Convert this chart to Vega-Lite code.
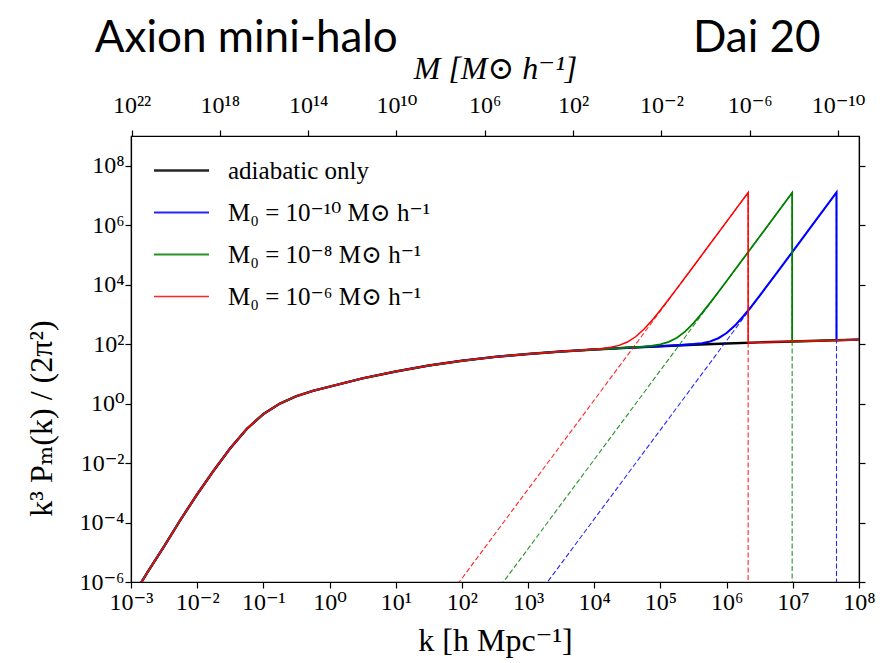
{
  "$schema": "https://vega.github.io/schema/vega-lite/v6.json",
  "width": 728,
  "height": 446,
  "autosize": "none",
  "padding": {"left": 131, "top": 136, "right": 21, "bottom": 81},
  "background": "white",
  "config": {
    "view": {"stroke": "black", "strokeWidth": 1.2},
    "axis": {"labelFont": "Liberation Serif, DejaVu Serif", "labelFontSize": 24, "labelColor": "black", "titleFont": "Liberation Serif, DejaVu Serif", "titleFontSize": 32, "titleFontWeight": "normal", "titleColor": "black", "domainColor": "black", "tickColor": "black", "tickSize": 6, "tickWidth": 1.2, "domainWidth": 1.2, "grid": false, "labelPadding": 3, "labelOverlap": false, "labelFlush": false},
    "legend": {"orient": "none", "legendX": 38, "legendY": 22, "symbolType": "M-2.5,0H2.5", "symbolSize": 484, "labelFont": "Liberation Serif, DejaVu Serif", "labelFontSize": 25, "labelColor": "black", "labelOffset": 34, "rowPadding": 16, "padding": 0, "labelLimit": 400}
  },
  "layer": [
    {
      "data": {"values": [
        {"s":"a","t":"s","i":1,"k":0.001,"P":2.63e-7},
        {"s":"a","t":"s","i":2,"k":0.0017783,"P":2.138e-6},
        {"s":"a","t":"s","i":3,"k":0.0031623,"P":1.585e-5},
        {"s":"a","t":"s","i":4,"k":0.0056234,"P":1.259e-4},
        {"s":"a","t":"s","i":5,"k":0.01,"P":8.913e-4},
        {"s":"a","t":"s","i":6,"k":0.017783,"P":5.623e-3},
        {"s":"a","t":"s","i":7,"k":0.031623,"P":0.031623},
        {"s":"a","t":"s","i":8,"k":0.056234,"P":0.14125},
        {"s":"a","t":"s","i":9,"k":0.1,"P":0.44668},
        {"s":"a","t":"s","i":10,"k":0.17783,"P":1},
        {"s":"a","t":"s","i":11,"k":0.31623,"P":1.7783},
        {"s":"a","t":"s","i":12,"k":0.56234,"P":2.6915},
        {"s":"a","t":"s","i":13,"k":1,"P":3.7154},
        {"s":"a","t":"s","i":14,"k":3.1623,"P":7.0795},
        {"s":"a","t":"s","i":15,"k":10,"P":12.023},
        {"s":"a","t":"s","i":16,"k":31.623,"P":19.055},
        {"s":"a","t":"s","i":17,"k":100,"P":27.542},
        {"s":"a","t":"s","i":18,"k":316.23,"P":37.154},
        {"s":"a","t":"s","i":19,"k":1000,"P":46.774},
        {"s":"a","t":"s","i":20,"k":3162.3,"P":56.234},
        {"s":"a","t":"s","i":21,"k":10000,"P":66.069},
        {"s":"a","t":"s","i":22,"k":31623,"P":75.858},
        {"s":"a","t":"s","i":23,"k":100000,"P":85.114},
        {"s":"a","t":"s","i":24,"k":316228,"P":95.499},
        {"s":"a","t":"s","i":25,"k":1000000,"P":104.71},
        {"s":"a","t":"s","i":26,"k":3162278,"P":114.82},
        {"s":"a","t":"s","i":27,"k":10000000,"P":123.03},
        {"s":"a","t":"s","i":28,"k":31622777,"P":131.83},
        {"s":"a","t":"s","i":29,"k":100000000,"P":141.25},

        {"s":"b","t":"s","i":1,"k":0.001,"P":2.63e-7},
        {"s":"b","t":"s","i":2,"k":0.0017783,"P":2.138e-6},
        {"s":"b","t":"s","i":3,"k":0.0031623,"P":1.585e-5},
        {"s":"b","t":"s","i":4,"k":0.0056234,"P":1.259e-4},
        {"s":"b","t":"s","i":5,"k":0.01,"P":8.913e-4},
        {"s":"b","t":"s","i":6,"k":0.017783,"P":5.623e-3},
        {"s":"b","t":"s","i":7,"k":0.031623,"P":0.031623},
        {"s":"b","t":"s","i":8,"k":0.056234,"P":0.14125},
        {"s":"b","t":"s","i":9,"k":0.1,"P":0.44668},
        {"s":"b","t":"s","i":10,"k":0.17783,"P":1},
        {"s":"b","t":"s","i":11,"k":0.31623,"P":1.7783},
        {"s":"b","t":"s","i":12,"k":0.56234,"P":2.6915},
        {"s":"b","t":"s","i":13,"k":1,"P":3.7154},
        {"s":"b","t":"s","i":14,"k":3.1623,"P":7.0795},
        {"s":"b","t":"s","i":15,"k":10,"P":12.023},
        {"s":"b","t":"s","i":16,"k":31.623,"P":19.055},
        {"s":"b","t":"s","i":17,"k":100,"P":27.542},
        {"s":"b","t":"s","i":18,"k":316.23,"P":37.154},
        {"s":"b","t":"s","i":19,"k":1000,"P":46.774},
        {"s":"b","t":"s","i":20,"k":3162.3,"P":56.234},
        {"s":"b","t":"s","i":21,"k":10000,"P":66.069},
        {"s":"b","t":"s","i":22,"k":31623,"P":75.858},
        {"s":"b","t":"s","i":23,"k":100000,"P":85.114},
        {"s":"b","t":"s","i":24,"k":177828,"P":90.99},
        {"s":"b","t":"s","i":25,"k":316228,"P":99.77},
        {"s":"b","t":"s","i":26,"k":421697,"P":107.65},
        {"s":"b","t":"s","i":27,"k":562341,"P":123.46},
        {"s":"b","t":"s","i":28,"k":749894,"P":157.76},
        {"s":"b","t":"s","i":29,"k":1000000,"P":236.6},
        {"s":"b","t":"s","i":30,"k":1333521,"P":419.8},
        {"s":"b","t":"s","i":31,"k":1778279,"P":851.1},
        {"s":"b","t":"s","i":32,"k":2371374,"P":1870.9},
        {"s":"b","t":"s","i":33,"k":3162278,"P":4285.5},
        {"s":"b","t":"s","i":34,"k":5623413,"P":23550},
        {"s":"b","t":"s","i":35,"k":10000000,"P":131826},
        {"s":"b","t":"s","i":36,"k":45709000,"P":12589000},
        {"s":"b","t":"s","i":37,"k":45709000,"P":134.9},
        {"s":"b","t":"s","i":38,"k":100000000,"P":141.25},

        {"s":"g","t":"s","i":1,"k":0.001,"P":2.63e-7},
        {"s":"g","t":"s","i":2,"k":0.0017783,"P":2.138e-6},
        {"s":"g","t":"s","i":3,"k":0.0031623,"P":1.585e-5},
        {"s":"g","t":"s","i":4,"k":0.0056234,"P":1.259e-4},
        {"s":"g","t":"s","i":5,"k":0.01,"P":8.913e-4},
        {"s":"g","t":"s","i":6,"k":0.017783,"P":5.623e-3},
        {"s":"g","t":"s","i":7,"k":0.031623,"P":0.031623},
        {"s":"g","t":"s","i":8,"k":0.056234,"P":0.14125},
        {"s":"g","t":"s","i":9,"k":0.1,"P":0.44668},
        {"s":"g","t":"s","i":10,"k":0.17783,"P":1},
        {"s":"g","t":"s","i":11,"k":0.31623,"P":1.7783},
        {"s":"g","t":"s","i":12,"k":0.56234,"P":2.6915},
        {"s":"g","t":"s","i":13,"k":1,"P":3.7154},
        {"s":"g","t":"s","i":14,"k":3.1623,"P":7.0795},
        {"s":"g","t":"s","i":15,"k":10,"P":12.023},
        {"s":"g","t":"s","i":16,"k":31.623,"P":19.055},
        {"s":"g","t":"s","i":17,"k":100,"P":27.542},
        {"s":"g","t":"s","i":18,"k":316.23,"P":37.154},
        {"s":"g","t":"s","i":19,"k":1000,"P":46.774},
        {"s":"g","t":"s","i":20,"k":3162.3,"P":56.234},
        {"s":"g","t":"s","i":21,"k":10000,"P":66.069},
        {"s":"g","t":"s","i":22,"k":31623,"P":76.21},
        {"s":"g","t":"s","i":23,"k":56234,"P":82.79},
        {"s":"g","t":"s","i":24,"k":74989,"P":88.31},
        {"s":"g","t":"s","i":25,"k":100000,"P":98.40},
        {"s":"g","t":"s","i":26,"k":133352,"P":118.85},
        {"s":"g","t":"s","i":27,"k":177828,"P":164.4},
        {"s":"g","t":"s","i":28,"k":237137,"P":268.5},
        {"s":"g","t":"s","i":29,"k":316228,"P":512.9},
        {"s":"g","t":"s","i":30,"k":421697,"P":1086.4},
        {"s":"g","t":"s","i":31,"k":562341,"P":2443.4},
        {"s":"g","t":"s","i":32,"k":749894,"P":5662},
        {"s":"g","t":"s","i":33,"k":1000000,"P":13274},
        {"s":"g","t":"s","i":34,"k":3162278,"P":416869},
        {"s":"g","t":"s","i":35,"k":9772000,"P":12303000},
        {"s":"g","t":"s","i":36,"k":9772000,"P":122.7},
        {"s":"g","t":"s","i":37,"k":31622777,"P":131.83},
        {"s":"g","t":"s","i":38,"k":100000000,"P":141.25},

        {"s":"r","t":"s","i":1,"k":0.001,"P":2.63e-7},
        {"s":"r","t":"s","i":2,"k":0.0017783,"P":2.138e-6},
        {"s":"r","t":"s","i":3,"k":0.0031623,"P":1.585e-5},
        {"s":"r","t":"s","i":4,"k":0.0056234,"P":1.259e-4},
        {"s":"r","t":"s","i":5,"k":0.01,"P":8.913e-4},
        {"s":"r","t":"s","i":6,"k":0.017783,"P":5.623e-3},
        {"s":"r","t":"s","i":7,"k":0.031623,"P":0.031623},
        {"s":"r","t":"s","i":8,"k":0.056234,"P":0.14125},
        {"s":"r","t":"s","i":9,"k":0.1,"P":0.44668},
        {"s":"r","t":"s","i":10,"k":0.17783,"P":1},
        {"s":"r","t":"s","i":11,"k":0.31623,"P":1.7783},
        {"s":"r","t":"s","i":12,"k":0.56234,"P":2.6915},
        {"s":"r","t":"s","i":13,"k":1,"P":3.7154},
        {"s":"r","t":"s","i":14,"k":3.1623,"P":7.0795},
        {"s":"r","t":"s","i":15,"k":10,"P":12.023},
        {"s":"r","t":"s","i":16,"k":31.623,"P":19.055},
        {"s":"r","t":"s","i":17,"k":100,"P":27.542},
        {"s":"r","t":"s","i":18,"k":316.23,"P":37.154},
        {"s":"r","t":"s","i":19,"k":1000,"P":46.774},
        {"s":"r","t":"s","i":20,"k":3162.3,"P":56.234},
        {"s":"r","t":"s","i":21,"k":10000,"P":67.45},
        {"s":"r","t":"s","i":22,"k":13335,"P":71.45},
        {"s":"r","t":"s","i":23,"k":17783,"P":78.16},
        {"s":"r","t":"s","i":24,"k":23714,"P":90.78},
        {"s":"r","t":"s","i":25,"k":31623,"P":117.5},
        {"s":"r","t":"s","i":26,"k":42170,"P":177.0},
        {"s":"r","t":"s","i":27,"k":56234,"P":314.8},
        {"s":"r","t":"s","i":28,"k":74989,"P":638.3},
        {"s":"r","t":"s","i":29,"k":100000,"P":1402.8},
        {"s":"r","t":"s","i":30,"k":133352,"P":3213.9},
        {"s":"r","t":"s","i":31,"k":177828,"P":7499},
        {"s":"r","t":"s","i":32,"k":316228,"P":41783},
        {"s":"r","t":"s","i":33,"k":1000000,"P":1318300},
        {"s":"r","t":"s","i":34,"k":2113500,"P":12445000},
        {"s":"r","t":"s","i":35,"k":2113500,"P":111.2},
        {"s":"r","t":"s","i":36,"k":3162278,"P":114.82},
        {"s":"r","t":"s","i":37,"k":10000000,"P":123.03},
        {"s":"r","t":"s","i":38,"k":31622777,"P":131.83},
        {"s":"r","t":"s","i":39,"k":100000000,"P":141.25},

        {"s":"b","t":"d","i":1,"k":1259,"P":2.63e-7},
        {"s":"b","t":"d","i":2,"k":45709000,"P":12589000},
        {"s":"b","t":"d","i":3,"k":45709000,"P":1e-7},
        {"s":"g","t":"d","i":1,"k":281.8,"P":2.95e-7},
        {"s":"g","t":"d","i":2,"k":9772000,"P":12303000},
        {"s":"g","t":"d","i":3,"k":9772000,"P":1e-7},
        {"s":"r","t":"d","i":1,"k":63.1,"P":3.31e-7},
        {"s":"r","t":"d","i":2,"k":2113500,"P":12445000},
        {"s":"r","t":"d","i":3,"k":2113500,"P":1e-7}
      ]},
      "encoding": {
        "x": {"field": "k", "type": "quantitative", "scale": {"type": "log", "domain": [0.001, 100000000], "nice": false},
              "axis": {"orient": "bottom", "values": [0.001, 0.01, 0.1, 1, 10, 100, 1000, 10000, 100000, 1000000, 10000000, 100000000],
                       "labelExpr": "'10' + replace(replace(replace(replace(replace(replace(replace(replace(replace(replace(replace('' + round(log(datum.value)/LN10), /-/g, '⁻'), /0/g, '⁰'), /1/g, '¹'), /2/g, '²'), /3/g, '³'), /4/g, '⁴'), /5/g, '⁵'), /6/g, '⁶'), /7/g, '⁷'), /8/g, '⁸'), /9/g, '⁹')",
                       "labelPadding": 2, "title": "k [h Mpc⁻¹]", "titlePadding": 11}},
        "y": {"field": "P", "type": "quantitative", "scale": {"type": "log", "domain": [1e-6, 1e9], "nice": false},
              "axis": {"values": [1e8, 1e6, 1e4, 100, 1, 0.01, 1e-4, 1e-6],
                       "labelExpr": "'10' + replace(replace(replace(replace(replace(replace(replace(replace(replace(replace(replace('' + round(log(datum.value)/LN10), /-/g, '⁻'), /0/g, '⁰'), /1/g, '¹'), /2/g, '²'), /3/g, '³'), /4/g, '⁴'), /5/g, '⁵'), /6/g, '⁶'), /7/g, '⁷'), /8/g, '⁸'), /9/g, '⁹')",
                       "labelPadding": 1, "title": "k³ Pₘ(k) / (2π²)", "titlePadding": 20, "titleY": 282}},
        "color": {"field": "s", "type": "nominal", "scale": {"domain": ["a", "b", "g", "r"], "range": ["#000000", "#0000ff", "#008000", "#ff0000"]},
                  "legend": {"title": null, "labelExpr": "datum.label == 'a' ? 'adiabatic only' : datum.label == 'b' ? 'M₀ = 10⁻¹⁰ M⊙ h⁻¹' : datum.label == 'g' ? 'M₀ = 10⁻⁸ M⊙ h⁻¹' : 'M₀ = 10⁻⁶ M⊙ h⁻¹'"}},
        "strokeWidth": {"field": "s", "type": "nominal", "scale": {"domain": ["a", "b", "g", "r"], "range": [2.4, 1.5, 1.5, 1.5]},
                  "legend": {"title": null, "labelExpr": "datum.label == 'a' ? 'adiabatic only' : datum.label == 'b' ? 'M₀ = 10⁻¹⁰ M⊙ h⁻¹' : datum.label == 'g' ? 'M₀ = 10⁻⁸ M⊙ h⁻¹' : 'M₀ = 10⁻⁶ M⊙ h⁻¹'"}},
        "order": {"field": "i", "type": "quantitative"}
      },
      "layer": [
        {"transform": [{"filter": "datum.s == 'a' && datum.t == 's'"}], "mark": {"type": "line", "clip": true}},
        {"transform": [{"filter": "datum.s == 'b' && datum.t == 's'"}], "mark": {"type": "line", "clip": true}},
        {"transform": [{"filter": "datum.s == 'b' && datum.t == 'd'"}], "mark": {"type": "line", "clip": true, "strokeDash": [5, 2.5], "opacity": 0.85}, "encoding": {"strokeWidth": {"value": 1.1}}},
        {"transform": [{"filter": "datum.s == 'g' && datum.t == 's'"}], "mark": {"type": "line", "clip": true}},
        {"transform": [{"filter": "datum.s == 'g' && datum.t == 'd'"}], "mark": {"type": "line", "clip": true, "strokeDash": [5, 2.5], "opacity": 0.85}, "encoding": {"strokeWidth": {"value": 1.1}}},
        {"transform": [{"filter": "datum.s == 'r' && datum.t == 's'"}], "mark": {"type": "line", "clip": true}},
        {"transform": [{"filter": "datum.s == 'r' && datum.t == 'd'"}], "mark": {"type": "line", "clip": true, "strokeDash": [5, 2.5], "opacity": 0.85}, "encoding": {"strokeWidth": {"value": 1.1}}}
      ]
    },
    {
      "layer": [
        {
          "data": {"values": [{"label": "Axion mini-halo"}]},
          "mark": {"type": "text", "font": "Lato", "fontSize": 44, "align": "left", "baseline": "alphabetic", "color": "black"},
          "encoding": {
            "x": {"datum": 4.63e23, "type": "quantitative", "scale": {"type": "log", "domain": [1.119e-11, 1.064e22], "reverse": true, "nice": false},
                  "axis": {"orient": "top", "values": [1e22, 1e18, 1e14, 1e10, 1e6, 100, 0.01, 1e-6, 1e-10],
                           "labelExpr": "'10' + replace(replace(replace(replace(replace(replace(replace(replace(replace(replace(replace('' + round(log(datum.value)/LN10), /-/g, '⁻'), /0/g, '⁰'), /1/g, '¹'), /2/g, '²'), /3/g, '³'), /4/g, '⁴'), /5/g, '⁵'), /6/g, '⁶'), /7/g, '⁷'), /8/g, '⁸'), /9/g, '⁹')",
                           "labelPadding": 13, "title": "M [M⊙ h⁻¹]", "titleFontStyle": "italic", "titlePadding": 8}},
            "y": {"datum": 6.9e11, "type": "quantitative", "scale": {"type": "log", "domain": [1e-6, 1e9], "nice": false},
                  "axis": {"orient": "right", "values": [1e8, 1e6, 1e4, 100, 1, 0.01, 1e-4, 1e-6], "labels": false, "title": null}},
            "text": {"field": "label", "type": "nominal"}
          }
        },
        {
          "data": {"values": [{"label": "Dai 20"}]},
          "mark": {"type": "text", "font": "Lato", "fontSize": 44, "align": "left", "baseline": "alphabetic", "color": "black"},
          "encoding": {
            "x": {"datum": 0.000372, "type": "quantitative"},
            "y": {"datum": 6.9e11, "type": "quantitative"},
            "text": {"field": "label", "type": "nominal"}
          }
        }
      ]
    }
  ],
  "resolve": {"scale": {"x": "independent", "y": "independent"}, "axis": {"x": "independent", "y": "independent"}}
}
